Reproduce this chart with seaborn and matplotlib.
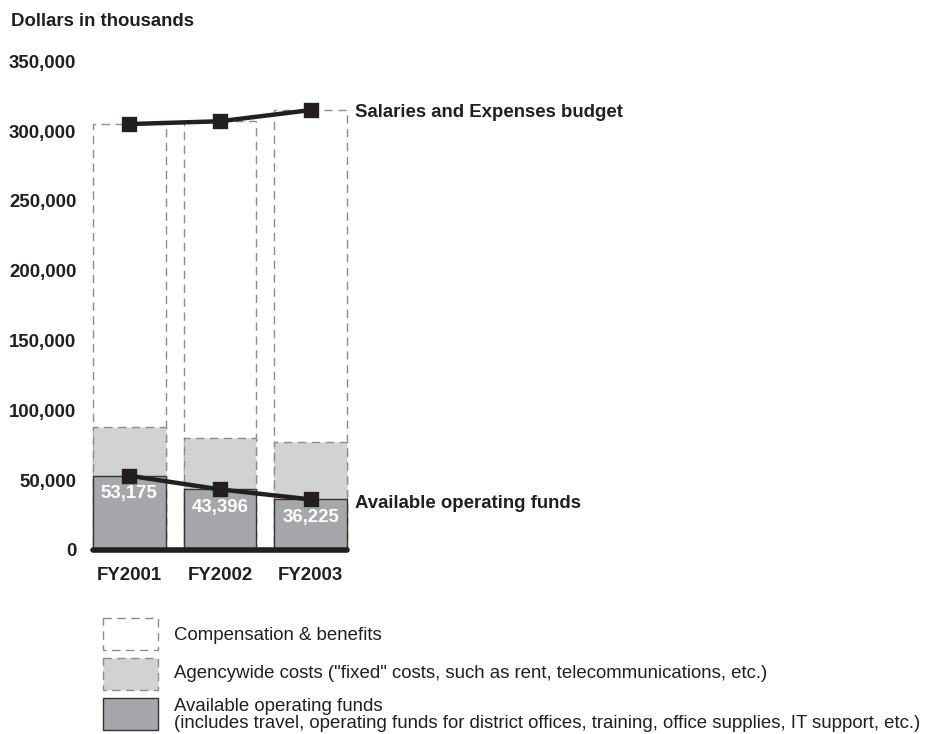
import matplotlib
matplotlib.use("Agg")
import matplotlib.pyplot as plt
from matplotlib.patches import Rectangle
from matplotlib.ticker import FuncFormatter
import seaborn as sns

years = ["FY2001", "FY2002", "FY2003"]
budget = [305000, 307000, 315000]          # Salaries and Expenses budget (total)
agency_plus_avail = [88300, 80400, 77100]  # top of agencywide cost segment
available = [53175, 43396, 36225]          # available operating funds
y_ticks = [0, 50000, 100000, 150000, 200000, 250000, 300000, 350000]

legend_labels = [
    "Compensation & benefits",
    "Agencywide costs (\"fixed\" costs, such as rent, telecommunications, etc.)",
    "Available operating funds\n(includes travel, operating funds for district offices, "
    "training, office supplies, IT support, etc.)",
]

INK = "#231f20"
DARK = "#a6a7aa"
LIGHT = "#d1d2d4"
DASH_EDGE = "#8c8c8c"
DASHES = (0, (6, 4))
FS = 13.4

sns.set_theme(style="white")
plt.rcParams["font.family"] = ["Liberation Sans", "DejaVu Sans"]
plt.rcParams["text.color"] = INK

W, H = 925, 734
fig = plt.figure(figsize=(W / 100, H / 100), dpi=100)
ax = fig.add_axes([93 / W, 184 / H, 254 / W, 488.8 / H])

common = dict(x=years, width=0.8, saturation=1, errorbar=None, ax=ax, clip_on=False)
sns.barplot(y=budget, color="white", edgecolor=DASH_EDGE, linewidth=1,
            linestyle=DASHES, **common)
sns.barplot(y=agency_plus_avail, color=LIGHT, edgecolor=DASH_EDGE, linewidth=1,
            linestyle=DASHES, **common)
sns.barplot(y=available, color=DARK, edgecolor="#333333", linewidth=1, **common)

for vals in (budget, available):
    sns.pointplot(x=years, y=vals, color=INK, markers="s", markersize=8,
                  linewidth=3.2, errorbar=None, ax=ax)

ax.axhline(0, color=INK, lw=4, zorder=5, clip_on=False)

# value labels inside the dark bars
for i, v in enumerate(available):
    ax.annotate(f"{v:,}", (i, v), xytext=(0, -18), textcoords="offset pixels",
                ha="center", va="center", color="white", fontsize=FS,
                fontweight="bold", zorder=6)

# series labels to the right
ax.annotate("Salaries and Expenses budget", (2, budget[-1]), xytext=(44, -2),
            textcoords="offset pixels", ha="left", va="center", fontsize=FS,
            fontweight="bold", annotation_clip=False)
ax.annotate("Available operating funds", (2, available[-1]), xytext=(44, -4),
            textcoords="offset pixels", ha="left", va="center", fontsize=FS,
            fontweight="bold", annotation_clip=False)

ax.set_xlim(-0.4, 2.4)
ax.set_ylim(0, 350000)
ax.set_yticks(y_ticks)
ax.yaxis.set_major_formatter(FuncFormatter(lambda v, p: f"{int(v):,}"))
ax.tick_params(axis="both", length=0, labelsize=FS, labelcolor=INK)
ax.tick_params(axis="y", pad=12)
ax.tick_params(axis="x", pad=12)
for lab in ax.get_xticklabels() + ax.get_yticklabels():
    lab.set_fontweight("bold")
ax.set_xlabel("")
ax.set_ylabel("")
sns.despine(ax=ax, left=True, bottom=True)

fig.text(11 / W, 1 - 22 / H, "Dollars in thousands", fontsize=FS,
         fontweight="bold", va="center", ha="left")

# legend drawn in pixel coordinates
lax = fig.add_axes([0, 0, 1, 1], zorder=-1)
lax.set_xlim(0, W)
lax.set_ylim(H, 0)
lax.axis("off")
lax.add_patch(Rectangle((103, 618), 55, 32, facecolor="white", edgecolor=DASH_EDGE,
                        lw=1, linestyle=DASHES))
lax.add_patch(Rectangle((103, 658), 55, 32, facecolor=LIGHT, edgecolor=DASH_EDGE,
                        lw=1, linestyle=DASHES))
lax.add_patch(Rectangle((103, 698), 55, 32, facecolor=DARK, edgecolor="#333333", lw=1))
lax.text(174, 635, legend_labels[0], fontsize=FS, va="center", ha="left")
lax.text(174, 673, legend_labels[1], fontsize=FS, va="center", ha="left")
lax.text(174, 715, legend_labels[2], fontsize=FS, va="center", ha="left",
         linespacing=1.05)

fig.savefig("out.png", dpi=100)
